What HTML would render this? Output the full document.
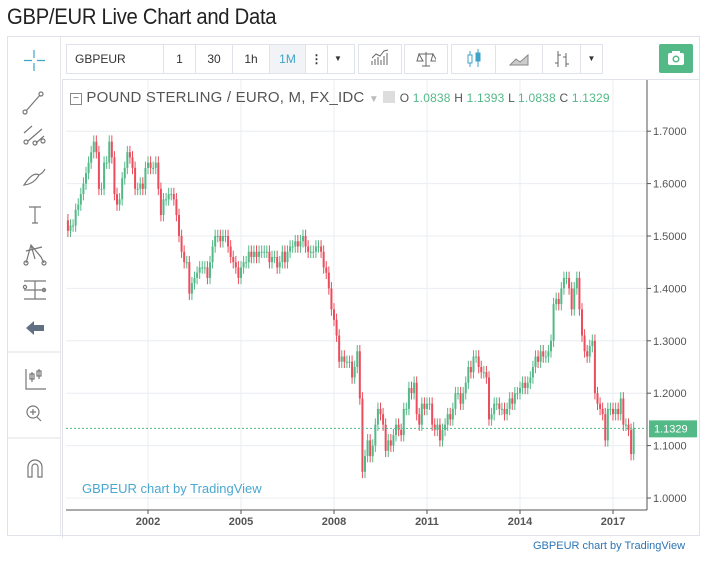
<!DOCTYPE html>
<html><head><meta charset="utf-8"><style>
body{margin:0;width:708px;height:566px;background:#fff;font-family:"Liberation Sans",sans-serif;position:relative;overflow:hidden}
.a{position:absolute}
.tb{position:absolute;top:44px;height:30px;border:1px solid #e0e3eb;background:#fff;box-sizing:border-box;font-size:12px;color:#333;white-space:nowrap;overflow:hidden;display:flex}
.tb span{display:block;flex:none;box-sizing:border-box;height:28px;line-height:28px;text-align:center;border-right:1px solid #e0e3eb}
</style></head><body>
<div class="a" style="left:7px;top:4px;font-size:22px;color:#222;letter-spacing:-0.3px;transform:scaleX(0.92);transform-origin:left">GBP/EUR Live Chart and Data</div>
<div class="a" style="left:7px;top:36px;width:693px;height:500px;border:1px solid #e0e3eb;box-sizing:border-box"></div>
<div class="a" style="left:8px;top:37px;width:52px;height:498px;border-right:1px solid #e8e8e8">
<svg width="52" height="498" stroke="#777" fill="none" stroke-width="1.2">
<g stroke="#3ea3c7"><path d="M26 13v8M26 26v8M16 23.5h8M29 23.5h8"/></g>
<g><path d="M18 74L32 58"/><circle cx="17" cy="75" r="2"/><circle cx="33" cy="57" r="2"/></g>
<g><path d="M16 96l8-7M20 104l14-12M28 106l8-7"/><circle cx="18" cy="105" r="2"/><circle cx="27" cy="106" r="2"/><circle cx="35" cy="104" r="2"/></g>
<g><path d="M16 148q10-1 15-10q-6-4-15 10zM31 138q4-2 6-6"/></g>
<g><path d="M21 170h12M27 170v16M24 186h6"/></g>
<g><path d="M18 226l5-18 10 12 3 6M18 214l16-4M23 208l4 14"/><circle cx="18" cy="226" r="2"/><circle cx="36" cy="226" r="2"/></g>
<g><path d="M16 244h22M16 253h22M16 262h22M27 244v18"/><circle cx="17" cy="250" r="1.6"/><circle cx="36" cy="253" r="1.6"/></g>
<g fill="#607080" stroke="none"><path d="M18 291l8-7v4h10v6H26v4z"/></g>
<path d="M0 315h52M0 401h52" stroke="#e8e8e8"/>
<g><path d="M18 332v20h20M24 335v10M31 332v10"/><rect x="22" y="337" width="4" height="5"/><rect x="29" y="334" width="4" height="5"/></g>
<g><circle cx="25" cy="375" r="6"/><path d="M29 380l4 4M25 372v6M22 375h6"/></g>
<g><path d="M20 440v-10a7 7 0 0 1 14 0v10h-4v-10a3 3 0 0 0-6 0v10z"/></g>
</svg></div>
<div class="tb" style="left:66px;width:98px"><span style="width:96px;text-align:left;padding-left:8px;border:none">GBPEUR</span></div>
<div class="tb" style="left:163px;width:192px">
<span style="width:32px">1</span><span style="width:37px">30</span><span style="width:37px">1h</span><span style="width:36px;background:#f1f3f6;color:#3ea3c7">1M</span><span style="width:22px;font-weight:bold">⋮</span><span style="width:20px;border:none;font-size:8px">▼</span></div>
<div class="tb" style="left:358px;width:44px;justify-content:center"><svg width="20" height="28" stroke="#666" fill="none"><path d="M2 20v-4M5 20v-6M8 20v-8M11 20v-5M14 20v-9M17 20v-12M2 13l4-4 4 2 4-5 4-1"/></svg></div>
<div class="tb" style="left:404px;width:44px;justify-content:center"><svg width="20" height="28" stroke="#666" fill="none"><path d="M10 7v14M3 9h14M3 9l-2 7h6zM17 9l-2 7h6zM6 21h8"/></svg></div>
<div class="tb" style="left:451px;width:152px">
<span style="width:44px"><svg width="20" height="28" stroke="#3ea3c7" fill="none"><path d="M6 6v16M14 4v18"/><rect x="4" y="10" width="4" height="8" fill="#fff"/><rect x="12" y="8" width="4" height="8" fill="#3ea3c7"/></svg></span><span style="width:47px"><svg width="22" height="28"><path d="M2 20l6-6 4 3 8-7v10z" fill="#ccc" stroke="#888"/></svg></span><span style="width:38px"><svg width="20" height="28" stroke="#666" fill="none"><path d="M6 6v16M3 18h3M6 10h3M14 8v14M11 12h3M14 19h3"/></svg></span><span style="width:21px;border:none;font-size:8px">▼</span></div>
<div class="a" style="left:659px;top:44px;width:34px;height:29px;background:#53b987;border-radius:2px"><svg width="34" height="29"><rect x="9" y="9" width="16" height="12" rx="2" fill="#fff"/><rect x="13" y="7" width="8" height="4" fill="#fff"/><circle cx="17" cy="15" r="3.5" fill="#53b987"/><circle cx="17" cy="15" r="2" fill="#fff"/></svg></div>
<div class="a" style="left:62px;top:79px;width:636px;height:458px;border-left:1px solid #e0e3eb;border-top:1px solid #e0e3eb"></div>
<svg class="a" id="chart" style="left:0;top:0" width="708" height="566"></svg>
<div class="a" style="left:70px;top:89px;font-size:15px;color:#555;white-space:nowrap;letter-spacing:0.2px">
<span style="display:inline-block;width:10px;height:10px;border:1px solid #888;font-size:10px;line-height:9px;text-align:center;vertical-align:1px">−</span> POUND STERLING / EURO, M, FX_IDC <span style="color:#bbb;font-size:10px">▼</span> <span style="display:inline-block;width:12px;height:12px;background:#ddd;vertical-align:-1px"></span>
<span style="font-size:12px;color:#555"> O <b style="font-weight:normal;color:#53b987">1.0838</b> H <b style="font-weight:normal;color:#53b987">1.1393</b> L <b style="font-weight:normal;color:#53b987">1.0838</b> C <b style="font-weight:normal;color:#53b987">1.1329</b></span></div>
<div class="a" style="left:82px;top:481px;font-size:13px;color:#4aa8d0">GBPEUR chart by TradingView</div>
<div class="a" style="left:533px;top:540px;font-size:11px;color:#2d75b4">GBPEUR chart by TradingView</div>
<script>
const startYear=1999, startMonth=4; // May 1999
const closes=[1.53,1.51,1.52,1.52,1.55,1.56,1.58,1.60,
1.62,1.64,1.66,1.68,1.66,1.59,1.59,1.64,1.64,1.68,1.65,1.58,
1.56,1.57,1.61,1.63,1.66,1.65,1.63,1.59,1.59,1.60,1.59,1.63,
1.64,1.63,1.63,1.64,1.59,1.54,1.57,1.57,1.58,1.58,1.57,1.54,
1.50,1.47,1.45,1.45,1.39,1.41,1.42,1.43,1.44,1.44,1.44,1.42,
1.45,1.48,1.50,1.50,1.49,1.50,1.50,1.48,1.46,1.45,1.44,1.42,
1.44,1.45,1.45,1.47,1.46,1.47,1.46,1.47,1.47,1.47,1.47,1.45,
1.46,1.46,1.44,1.45,1.47,1.45,1.47,1.48,1.48,1.49,1.48,1.49,
1.50,1.48,1.47,1.47,1.47,1.48,1.48,1.47,1.44,1.43,1.40,1.36,
1.34,1.31,1.26,1.27,1.26,1.26,1.26,1.23,1.25,1.28,1.19,1.05,
1.08,1.11,1.08,1.10,1.14,1.17,1.16,1.14,1.09,1.11,1.10,1.12,
1.14,1.13,1.12,1.17,1.17,1.21,1.20,1.22,1.16,1.14,1.18,1.17,
1.18,1.18,1.14,1.13,1.14,1.11,1.13,1.14,1.16,1.15,1.17,1.20,
1.20,1.18,1.20,1.22,1.25,1.24,1.27,1.27,1.25,1.24,1.24,1.23,
1.15,1.16,1.18,1.18,1.17,1.17,1.16,1.17,1.19,1.18,1.20,1.20,
1.21,1.22,1.21,1.22,1.23,1.25,1.27,1.26,1.28,1.27,1.27,1.28,
1.30,1.37,1.38,1.37,1.40,1.42,1.42,1.40,1.36,1.40,1.42,1.36,
1.31,1.28,1.27,1.29,1.30,1.20,1.18,1.17,1.16,1.11,1.17,1.17,
1.16,1.17,1.16,1.19,1.14,1.14,1.13,1.0838,1.1329];
const priceTicks=[1.0,1.1,1.2,1.3,1.4,1.5,1.6,1.7];
const yearTicks=[2002,2005,2008,2011,2014,2017];
const lastPrice=1.1329;
const svg=document.getElementById('chart'),NS='http://www.w3.org/2000/svg';
const X0=66,X1=647,YT=80,YB=510;
const y=v=>498-(v-1.0)*524;
const x=mi=>148+(mi-(2002-startYear)*12+startMonth)*(93/36);
function mk(t,a,p){const e=document.createElementNS(NS,t);for(const k in a)e.setAttribute(k,a[k]);(p||svg).appendChild(e);return e;}
const g=mk('g',{});


priceTicks.forEach(v=>{mk('line',{x1:X0,x2:X1,y1:y(v),y2:y(v),stroke:'#e9eef2'},g);
const t=mk('text',{x:653,y:y(v)+4,'font-size':11,fill:'#555'});t.textContent=v.toFixed(4);


mk('line',{x1:X1,x2:X1+4,y1:y(v),y2:y(v),stroke:'#555'});});
yearTicks.forEach(yr=>{const xx=x((yr-startYear)*12-startMonth);mk('line',{x1:xx,x2:xx,y1:YT,y2:YB,stroke:'#e9eef2'},g);
const t=mk('text',{x:xx,y:525,'font-size':11,fill:'#555','text-anchor':'middle','font-weight':'bold'});t.textContent=yr;


mk('line',{x1:xx,x2:xx,y1:YB,y2:YB+4,stroke:'#555'});});
const cg=mk('g',{});


closes.forEach((c,i)=>{const o=i?closes[i-1]:1.55;const up=c>=o;const col=up?'#53b987':'#eb4d5c';
const xx=x(i);if(xx<X0)return;const hi=Math.max(o,c)+0.012,lo=Math.min(o,c)-0.012;
mk('line',{x1:xx,x2:xx,y1:y(hi),y2:y(lo),stroke:col,'stroke-width':1},cg);
const top=y(Math.max(o,c)),h=Math.max(1,y(Math.min(o,c))-top);
const r=mk('rect',{x:xx-1,y:top,width:2,height:h,fill:col},cg);

});
mk('line',{x1:X1,x2:X1,y1:YT,y2:YB,stroke:'#555'});
mk('line',{x1:X0,x2:X1,y1:YB,y2:YB,stroke:'#555'});
const pl=mk('line',{x1:X0,x2:X1,y1:y(lastPrice),y2:y(lastPrice),stroke:'#53b987','stroke-dasharray':'2,2'});


const lb=mk('rect',{x:649,y:y(lastPrice)-8,width:48,height:17,fill:'#53b987'});


const lt=mk('text',{x:654,y:y(lastPrice)+4,'font-size':11,fill:'#fff'});lt.textContent=lastPrice.toFixed(4);
</script>
</body></html>
